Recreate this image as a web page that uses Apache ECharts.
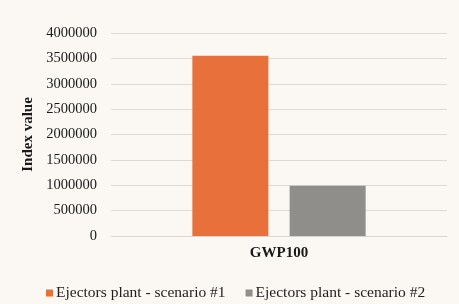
<!DOCTYPE html>
<html><head><meta charset="utf-8">
<script src="https://cdn.jsdelivr.net/npm/echarts@6/dist/echarts.min.js"></script>
<style>html,body{margin:0;padding:0;background:#fbf8f3;}#c{width:459px;height:304px;}</style>
</head><body><div id="c"></div>
<script>
const categories = ['GWP100'];
const seriesNames = ['Ejectors plant - scenario #1', 'Ejectors plant - scenario #2'];
const scenario1 = [3550000];
const scenario2 = [990000];
const colors = ['#e8703a', '#8f8e8a'];
const font = '"Liberation Serif", "DejaVu Serif", serif';
const chart = echarts.init(document.getElementById('c'));
chart.setOption({
  backgroundColor: '#fbf8f3',
  animation: false,
  color: colors,
  textStyle: {fontFamily: font},
  legend: {
    bottom: 3, left: 46, itemWidth: 7, itemHeight: 7, itemGap: 20,
    padding: 0, icon: 'rect',
    textStyle: {fontFamily: font, fontSize: 15.5, color: '#1e1e1e', padding: [0,0,0,-2]},
    data: seriesNames
  },
  grid: {left: 111, right: 12, top: 33, bottom: 68},
  xAxis: {
    type: 'category', data: categories,
    axisLine: {show: true, lineStyle: {color: '#d8d6d2'}},
    axisTick: {show: false},
    axisLabel: {fontFamily: font, fontWeight: 'bold', fontSize: 15, color: '#1a1a1a', margin: 10}
  },
  yAxis: {
    type: 'value', min: 0, max: 4000000, interval: 500000,
    name: 'Index value', nameLocation: 'middle', nameGap: 73, nameRotate: 90,
    nameTextStyle: {fontFamily: font, fontWeight: 'bold', fontSize: 15, color: '#1a1a1a'},
    axisLine: {show: false}, axisTick: {show: false},
    splitLine: {lineStyle: {color: '#dddbd7', width: 1}},
    axisLabel: {fontFamily: font, fontSize: 14.5, color: '#1a1a1a', margin: 14,
      formatter: v => String(v)}
  },
  series: [
    {name: seriesNames[0], type: 'bar', data: scenario1, barWidth: 76, barGap: '28%'},
    {name: seriesNames[1], type: 'bar', data: scenario2, barWidth: 76, barGap: '28%'}
  ]
});
</script></body></html>
